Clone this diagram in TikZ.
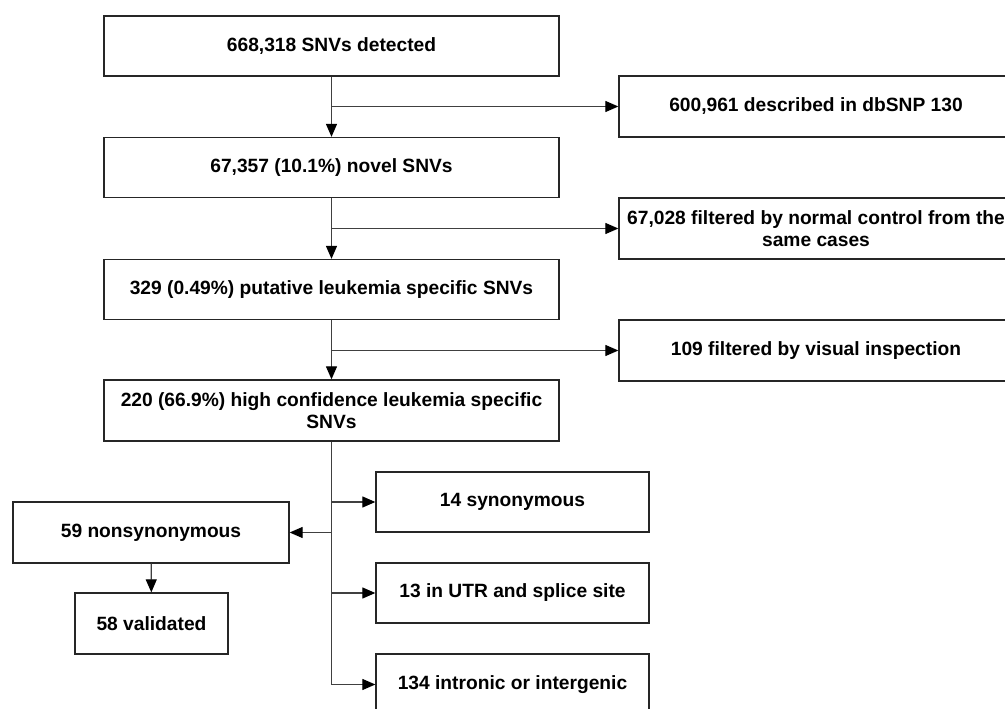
\documentclass[tikz,border=0pt]{standalone}
\usepackage{fontspec}
\setmainfont{Liberation Sans}
\usetikzlibrary{arrows.meta}
\begin{document}
\begin{tikzpicture}[x=1pt,y=-1pt,
  box/.style={draw=black!85,line width=1.3pt,inner sep=0pt,align=center,
    font=\fontsize{19.2}{22}\selectfont\bfseries,minimum height=60pt},
  mainbox/.style={box,minimum width=455pt},
  sidebox/.style={box,minimum width=394pt},
  lowbox/.style={box,minimum width=273pt},
  arr/.style={draw=black!75,line width=1.2pt,-{Triangle[length=13pt,width=11pt,color=black]}}]
\clip (0,0) rectangle (1005,709);
\fill[white] (0,0) rectangle (1005,709);
\node[mainbox] (b1) at (331.5,46) {668,318 SNVs detected};
\node[mainbox] (b2) at (331.5,167.5) {67,357 (10.1\%) novel SNVs};
\node[mainbox] (b3) at (331.5,289.5) {329 (0.49\%) putative leukemia specific SNVs};
\node[mainbox,minimum height=61pt] (b4) at (331.5,410.5) {220 (66.9\%) high confidence leukemia specific\\SNVs};
\node[sidebox,minimum height=61pt] (s1) at (816,106.5) {600,961 described in dbSNP 130};
\node[sidebox,minimum height=61pt] (s2) at (816,228.5) {67,028 filtered by normal control from the\\same cases};
\node[sidebox,minimum height=61pt] (s3) at (816,350.5) {109 filtered by visual inspection};
\node[lowbox] (syn) at (512.5,502) {14 synonymous};
\node[lowbox] (utr) at (512.5,593) {13 in UTR and splice site};
\node[lowbox,minimum height=61pt] (intr) at (512.5,684.5) {134 intronic or intergenic};
\node[box,minimum width=276pt,minimum height=61pt] (ns) at (151,532.5) {59 nonsynonymous};
\node[box,minimum width=153pt,minimum height=61pt] (val) at (151.5,623.5) {58 validated};
\draw[arr] (b1) -- (b2);
\draw[arr] (b2) -- (b3);
\draw[arr] (b3) -- (b4);
\draw[arr] (b1.south |- s1.west) -- (s1.west);
\draw[arr] (b2.south |- s2.west) -- (s2.west);
\draw[arr] (b3.south |- s3.west) -- (s3.west);
\draw[arr] (b4.south) |- (intr.west);
\draw[arr] (b4.south |- syn.west) -- (syn.west);
\draw[arr] (b4.south |- utr.west) -- (utr.west);
\draw[arr] (b4.south |- ns.east) -- (ns.east);
\draw[arr] (ns) -- (val);
\end{tikzpicture}
\end{document}
